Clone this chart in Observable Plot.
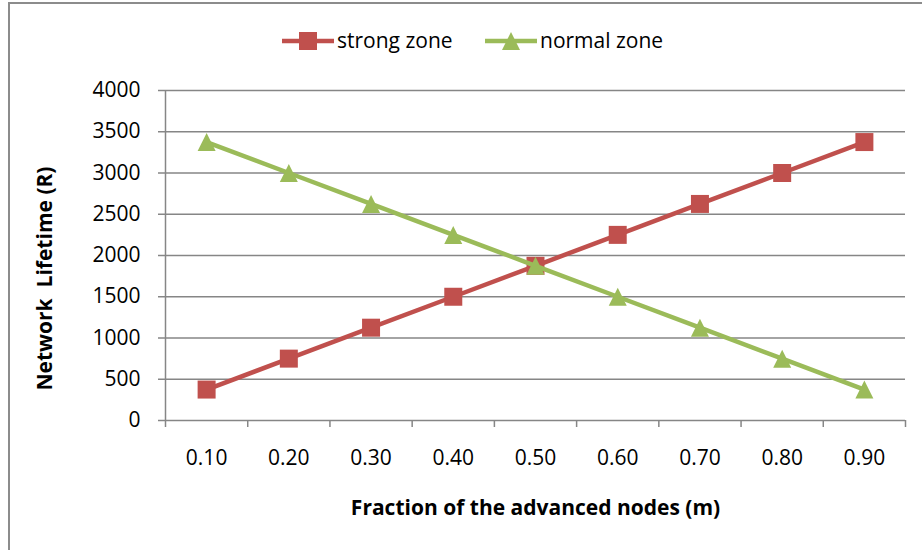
<!DOCTYPE html>
<html>
<head>
<meta charset="utf-8">
<script src="https://cdn.jsdelivr.net/npm/d3@7"></script>
<script src="https://cdn.jsdelivr.net/npm/@observablehq/plot@0.6"></script>
<style>
  html, body { margin: 0; padding: 0; background: #fff; }
  #wrap { position: relative; width: 922px; height: 550px; overflow: hidden; }
  #frame { position: absolute; left: 8px; top: 2px; right: -10px; bottom: -10px;
           border-top: 2px solid #8c8c8c; border-left: 2px solid #8c8c8c; pointer-events: none; }
  svg text { font-family: "Open Sans", sans-serif; }
</style>
</head>
<body>
<div id="wrap"><div id="frame"></div></div>
<script>
// ---- data ----
const categories = [0.10, 0.20, 0.30, 0.40, 0.50, 0.60, 0.70, 0.80, 0.90];
const strongZone = [375, 750, 1125, 1500, 1875, 2250, 2625, 3000, 3375];
const normalZone = [3375, 3000, 2625, 2250, 1875, 1500, 1125, 750, 375];
const yTicks = [0, 500, 1000, 1500, 2000, 2500, 3000, 3500, 4000];
const seriesNames = ["strong zone", "normal zone"];
const xTitle = "Fraction of the advanced nodes (m)";
const yTitle = "Network  Lifetime (R)";

const RED = "#C0504D", GREEN = "#9BBB59", GRID = "#868686";
const FS = 21;

const strongData = categories.map((c, i) => ({x: c, y: strongZone[i]}));
const normalData = categories.map((c, i) => ({x: c, y: normalZone[i]}));
// category boundaries (Excel puts tick marks between categories)
const step = categories[1] - categories[0];
const bounds = [categories[0] - step / 2, ...categories.map(c => c + step / 2)];

const squareSym = { draw(ctx, size) { const r = Math.sqrt(size / Math.PI); ctx.rect(-r, -r, 2 * r, 2 * r); } };
const triSym = { draw(ctx, size) { const r = Math.sqrt(size / Math.PI); ctx.moveTo(0, -r); ctx.lineTo(r, r); ctx.lineTo(-r, r); ctx.closePath(); } };

const chart = Plot.plot({
  width: 922,
  height: 550,
  marginLeft: 165,
  marginRight: 17,
  marginTop: 90,
  marginBottom: 130,
  style: { fontFamily: "Open Sans, sans-serif", fontSize: FS + "px", color: "#000", background: "transparent" },
  x: { type: "linear", domain: [bounds[0], bounds[bounds.length - 1]] },
  y: { domain: [0, 4000] },
  marks: [
    Plot.ruleY(yTicks.slice(1), { stroke: GRID, strokeWidth: 1.3, strokeOpacity: 1 }),
    Plot.ruleX([bounds[0]], { stroke: GRID, strokeWidth: 1.5 }),
    Plot.ruleY([0], { stroke: GRID, strokeWidth: 1.5 }),
    Plot.axisY({ ticks: yTicks, tickSize: 7, tickPadding: 18, stroke: GRID, strokeWidth: 1.5, strokeOpacity: 1,
                 tickFormat: d => String(d), label: null, fill: "#000", fontSize: FS }),
    Plot.axisX({ ticks: bounds, tickSize: 7, stroke: GRID, strokeWidth: 1.5, strokeOpacity: 1,
                 tickFormat: () => "", label: null }),
    Plot.axisX({ ticks: categories, tickSize: 0, tickPadding: 30, tickFormat: d3.format(".2f"),
                 label: null, fill: "#000", fontSize: FS }),
    Plot.line(strongData, { x: "x", y: "y", stroke: RED, strokeWidth: 4.5 }),
    Plot.dot(strongData, { x: "x", y: "y", symbol: squareSym, r: 9, fill: RED, stroke: null }),
    Plot.line(normalData, { x: "x", y: "y", stroke: GREEN, strokeWidth: 4.5 }),
    Plot.dot(normalData, { x: "x", y: "y", symbol: triSym, r: 9, fill: GREEN, stroke: null }),
    Plot.text([xTitle], { frameAnchor: "bottom", dy: 94, text: d => d, fontWeight: "bold", fontSize: FS, fill: "#000" }),
    Plot.text([yTitle], { frameAnchor: "left", textAnchor: "middle", dx: -120, dy: 23, rotate: -90, text: d => d, fontWeight: "bold", fontSize: FS, fill: "#000" })
  ]
});

// legend drawn into the svg
const svg = d3.select(chart);
const legend = svg.append("g").attr("class", "legend").attr("text-anchor", "start");
const items = [
  { name: seriesNames[0], color: RED, shape: "square", x0: 282 },
  { name: seriesNames[1], color: GREEN, shape: "triangle", x0: 485 }
];
items.forEach(it => {
  const g = legend.append("g").attr("transform", `translate(${it.x0},41)`);
  g.append("line").attr("x1", 0).attr("x2", 52).attr("y1", 0).attr("y2", 0)
    .attr("stroke", it.color).attr("stroke-width", 4.5);
  if (it.shape === "square") {
    g.append("rect").attr("x", 26 - 9).attr("y", -9).attr("width", 18).attr("height", 18).attr("fill", it.color);
  } else {
    g.append("path").attr("d", "M26,-9L35,9L17,9Z").attr("fill", it.color);
  }
  g.append("text").attr("x", 55).attr("y", 0).attr("dy", "0.35em").attr("text-anchor", "start")
    .style("font-size", FS + "px").attr("fill", "#000").text(it.name);
});

document.getElementById("wrap").prepend(chart);
</script>
</body>
</html>
